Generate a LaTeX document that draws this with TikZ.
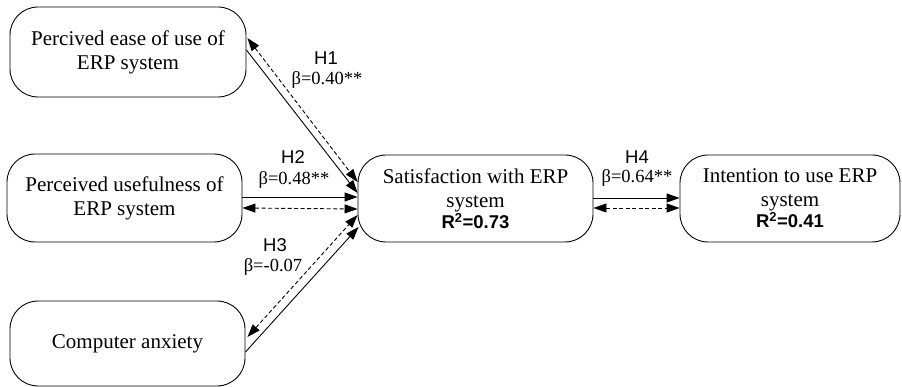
\documentclass[tikz,border=0pt]{standalone}
\usepackage{fontspec}
\setmainfont{Liberation Serif}
\setsansfont{Liberation Sans}
\usetikzlibrary{arrows.meta,calc}
\begin{document}
\begin{tikzpicture}[x=1pt,y=-1pt,
  box/.style={draw,line width=0.9pt,rounded corners=28pt,align=center,
    font=\fontsize{21}{24}\selectfont,inner sep=0pt},
  tip/.tip={Triangle[length=13pt,width=9pt]},
  solidarr/.style={line width=0.9pt,-tip},
  dasharr/.style={line width=0.9pt,dash pattern=on 4pt off 2.5pt,tip-tip},
  hlab/.style={font=\sffamily\fontsize{18.5}{20}\selectfont,inner sep=0pt},
  blab/.style={font=\fontsize{18.5}{20}\selectfont,inner sep=0pt},
]
\newcommand{\rsq}[1]{{\sffamily\bfseries\fontsize{18.5}{20}\selectfont R\textsuperscript{2}=#1}}
\useasboundingbox (0,0) rectangle (902,387);

\node[box,minimum width=236pt,minimum height=90pt] (b1) at (128,52) {Percived ease of use of\\ERP system};
\node[box,minimum width=235pt,minimum height=88pt] (b2) at (124.5,198) {Perceived usefulness of\\ERP system};
\node[box,minimum width=235pt,minimum height=85pt] (b3) at (127.5,343.5) {Computer anxiety};
\node[box,minimum width=235pt,minimum height=87pt] (sat) at (475.5,198.5) {Satisfaction with ERP\\system\\[-3pt]\rsq{0.73}};
\node[box,minimum width=220pt,minimum height=87pt] (int) at (790,198.5) {Intention to use ERP\\system\\[-3pt]\rsq{0.41}};

% H1
\draw[solidarr] ([yshift=2pt]b1.east) -- ([yshift=5.5pt]sat.west);
\draw[dasharr] ([xshift=1pt,yshift=14pt]b1.east) -- ([yshift=16.5pt]sat.west);
% H2
\draw[solidarr] ([yshift=1pt]b2.east) -- ([yshift=1.5pt]sat.west);
\draw[dasharr] ([yshift=-10pt]b2.east) -- ([yshift=-10.5pt]sat.west);
% H3
\draw[dasharr] ([xshift=2pt,yshift=6.5pt]b3.east) -- ([yshift=-16.5pt]sat.west);
\draw[solidarr] ([yshift=-8.5pt]b3.east) -- ([xshift=1pt,yshift=-28.5pt]sat.west);
% H4
\draw[solidarr] ([yshift=0.5pt]sat.east) -- ([yshift=0.5pt]int.west);
\draw[dasharr] ([yshift=-9.5pt]sat.east) -- ([yshift=-9.5pt]int.west);

\node[hlab] (h1) at (326,58) {H1};
\node[blab] (p1) at (327,80) {β=0.40**};
\node[hlab] (h2) at (293,157) {H2};
\node[blab] (p2) at (294,180) {β=0.48**};
\node[hlab] (h3) at (275,245) {H3};
\node[blab] (p3) at (273,267) {β=-0.07};
\node[hlab] (h4) at (637,157) {H4};
\node[blab] (p4) at (637,178) {β=0.64**};
\end{tikzpicture}
\end{document}
